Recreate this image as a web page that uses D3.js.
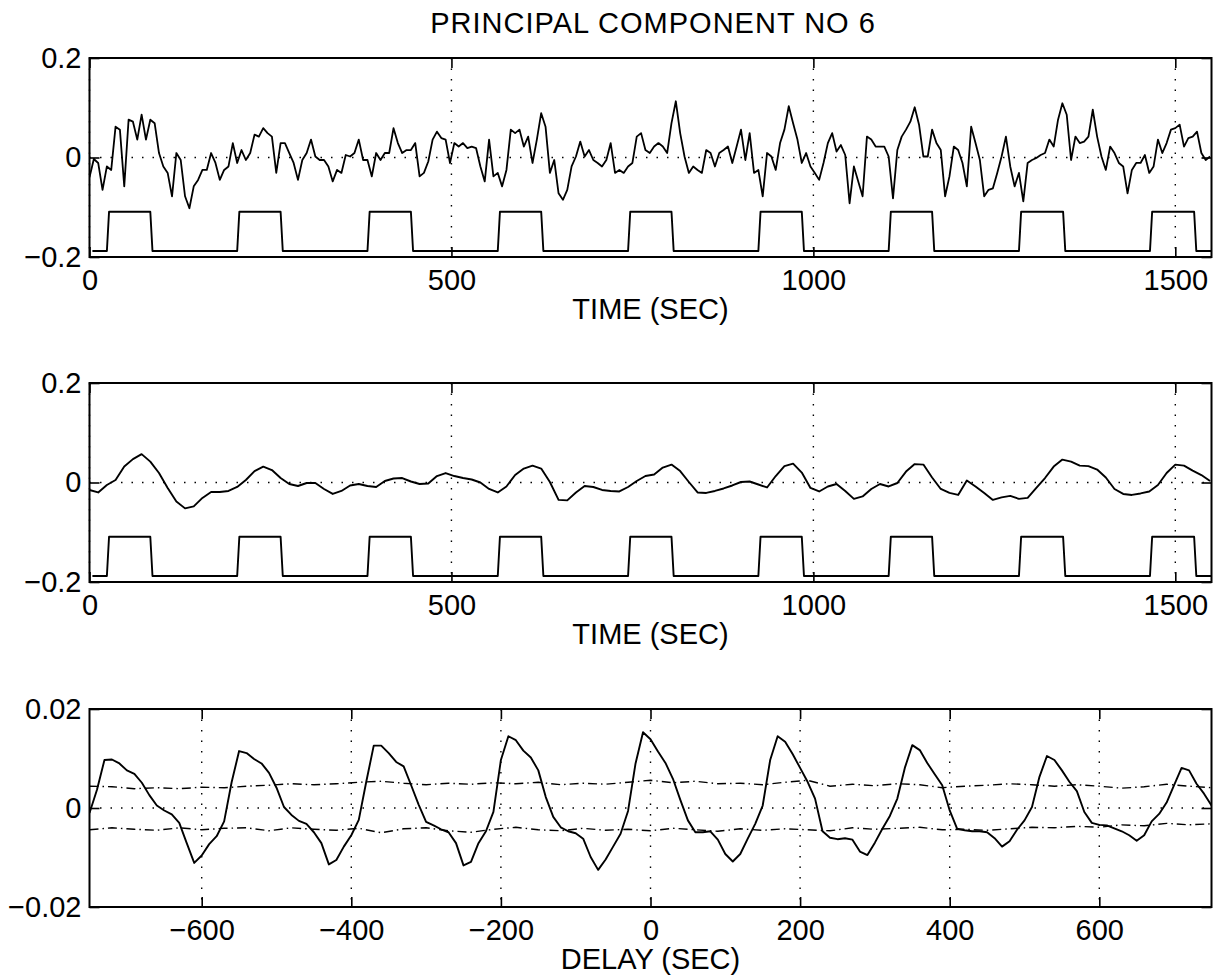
<!DOCTYPE html>
<html>
<head>
<meta charset="utf-8">
<script src="https://cdn.jsdelivr.net/npm/d3@7"></script>
<style>
	body { margin: 0; background: #fff; }
	svg text { font-family: "Liberation Sans", Arial, Helvetica, sans-serif; fill: #000; }
</style>
</head>
<body>
<svg id="chart" width="1213" height="977"></svg>
<script>
'use strict';

// ---- data ----

// raw principal component, one value every 6 sec from t = 0
var rawStep = 6;
var pcRaw = [
	-0.040, -0.003, -0.011, -0.065, -0.018, -0.025, 0.062, 0.056, -0.058, 0.076,
	0.072, 0.036, 0.086, 0.036, 0.076, 0.069, 0.009, -0.018, -0.031, -0.078,
	0.009, -0.005, -0.078, -0.102, -0.058, -0.045, -0.025, -0.025, 0.009, -0.011,
	-0.045, -0.025, -0.018, 0.029, -0.011, 0.015, -0.005, 0.009, 0.046, 0.042,
	0.059, 0.049, 0.042, -0.031, 0.029, 0.029, 0.009, -0.011, -0.045, -0.005,
	0.009, 0.036, 0.002, -0.005, -0.005, -0.018, -0.048, -0.025, -0.031, 0.005,
	0.002, 0.009, 0.036, -0.005, -0.005, -0.038, 0.009, -0.005, 0.009, 0.009,
	0.059, 0.029, 0.009, 0.015, 0.015, 0.029, -0.038,
	-0.031, -0.008, 0.036, 0.052, 0.039, 0.036, -0.011, 0.029, 0.022, 0.029,
	0.019, 0.022, 0.019, -0.018, -0.048, 0.036, -0.038, -0.031, -0.058, -0.025,
	0.056, 0.049, 0.056, 0.022, 0.042, -0.011, 0.036, 0.089, 0.062, -0.031,
	-0.005, -0.072, -0.085, -0.065, -0.018, 0.002, 0.032, 0.002, 0.015, -0.005,
	-0.011, -0.018, -0.005, 0.029, -0.031, -0.025, -0.031, -0.018, -0.011, 0.042,
	0.049, 0.015, 0.009, 0.022, 0.029, 0.022, 0.009, 0.069, 0.113, 0.049,
	0.002, -0.031, -0.018, -0.025, -0.031, 0.015, 0.009, -0.018, 0.009, 0.015,
	0.022, -0.011, 0.022, 0.056, -0.005, 0.049, -0.031, -0.025, -0.078, 0.009,
	0.002, -0.025, 0.029, 0.056, 0.103, 0.069, 0.036, -0.011, 0.009, -0.018,
	-0.031, -0.045,
	-0.011, 0.029, 0.049, 0.012, 0.025, 0.005, -0.092, -0.018, -0.048, -0.078,
	0.042, 0.036, 0.022, 0.022, 0.022, 0.002, -0.082, 0.015, 0.042, 0.056,
	0.072, 0.101, 0.066, 0.002, 0.002, 0.056, 0.029, 0.015, -0.078, -0.038,
	0.022, 0.015, -0.011, -0.058, 0.062, 0.029, -0.005, -0.078, -0.065, -0.062,
	-0.031, 0.002, 0.042, -0.018, -0.058, -0.031, -0.088, -0.011, -0.005, -0.001,
	0.005, 0.009, 0.036, 0.022, 0.076, 0.109, 0.086, -0.005, 0.042, 0.029,
	0.032, 0.042, 0.096, 0.042, 0.002, -0.025, 0.022, 0.009, -0.011, -0.018,
	-0.072, -0.025, -0.011, -0.011, 0.005, -0.031, -0.018, 0.036, 0.009, 0.029,
	0.056, 0.059, 0.066, 0.022, 0.039, 0.042, 0.052, 0.009, -0.005, 0.002
];

// smoothed component, one value every 12 sec from t = 0
var smoothStep = 12;
var pcSmooth = [
	-0.015, -0.020, -0.005, 0.005, 0.032, 0.047, 0.057, 0.042, 0.019, -0.011,
	-0.038, -0.052, -0.048, -0.031, -0.019, -0.019, -0.017, -0.009, 0.005, 0.023,
	0.032, 0.025, 0.009, -0.003, -0.007, -0.001, -0.001, -0.013, -0.023, -0.017,
	-0.006, -0.003, -0.007, -0.009, 0.003, 0.008, 0.009, 0.002, -0.003,
	-0.002, 0.013, 0.019, 0.013, 0.009, 0.006, 0.000, -0.013, -0.020, -0.008,
	0.015, 0.028, 0.034, 0.028, 0.001, -0.035, -0.036, -0.020, -0.007, -0.009,
	-0.015, -0.017, -0.018, -0.009, 0.003, 0.013, 0.016, 0.030, 0.036, 0.023,
	0.001, -0.020, -0.021, -0.017, -0.012, -0.006, 0.001, 0.002, -0.004, -0.010,
	0.013, 0.033, 0.038, 0.020, -0.011, -0.018,
	-0.008, -0.003, -0.017, -0.033, -0.028, -0.013, -0.003, -0.008, -0.001, 0.022,
	0.037, 0.036, 0.010, -0.013, -0.021, -0.025, 0.004, -0.008, -0.021, -0.035,
	-0.030, -0.027, -0.033, -0.031, -0.011, 0.009, 0.032, 0.046, 0.042, 0.034,
	0.033, 0.026, 0.010, -0.013, -0.023, -0.025, -0.022, -0.018, -0.005, 0.019,
	0.036, 0.034, 0.024, 0.015, 0.003
];

// stimulus on/off reference (corner points)
var stimTime = [4, 24, 27, 84, 87, 204, 207, 264, 267, 384, 387, 444, 447,
	564, 567, 624, 627, 744, 747, 804, 807, 924, 927, 984, 987,
	1104, 1107, 1164, 1167, 1284, 1287, 1345, 1348, 1465, 1468, 1526, 1529, 1550];
var stimLevel = [-0.188, -0.188, -0.109, -0.109, -0.188, -0.188, -0.109, -0.109, -0.188,
	-0.188, -0.109, -0.109, -0.188, -0.188, -0.109, -0.109, -0.188, -0.188, -0.109,
	-0.109, -0.188, -0.188, -0.109, -0.109, -0.188, -0.188, -0.109, -0.109, -0.188,
	-0.188, -0.109, -0.109, -0.188, -0.188, -0.109, -0.109, -0.188, -0.188];

// cross-correlation, one value every 10 sec from lag -750
var lagStart = -750, lagStep = 10;
var xcorr = [
	-0.0010, 0.0037, 0.0097, 0.0098, 0.0090, 0.0076, 0.0069, 0.0051, 0.0026, 0.0005,
	-0.0005, -0.0013, -0.0030, -0.0071, -0.0111, -0.0096, -0.0073, -0.0057, -0.0027, 0.0052,
	0.0115, 0.0111, 0.0099, 0.0090, 0.0071, 0.0041, 0.0002, -0.0014, -0.0026, -0.0032,
	-0.0049, -0.0071, -0.0114, -0.0105, -0.0078, -0.0055, -0.0024, 0.0053, 0.0126, 0.0126,
	0.0111, 0.0093, 0.0084, 0.0046, 0.0007,
	-0.0028, -0.0035, -0.0043, -0.0049, -0.0071, -0.0116, -0.0109, -0.0071, -0.0047, -0.0008,
	0.0097, 0.0145, 0.0137, 0.0116, 0.0102, 0.0076, 0.0022, -0.0018, -0.0039, -0.0047,
	-0.0051, -0.0062, -0.0099, -0.0125, -0.0104, -0.0078, -0.0052, -0.0006, 0.0090, 0.0153,
	0.0139, 0.0114, 0.0091, 0.0059, 0.0016, -0.0025, -0.0049, -0.0049, -0.0047, -0.0064,
	-0.0093, -0.0108, -0.0093, -0.0062, -0.0032, 0.0005, 0.0097, 0.0145, 0.0134, 0.0109,
	0.0081, 0.0053, 0.0019,
	-0.0047, -0.0060, -0.0063, -0.0061, -0.0064, -0.0088, -0.0095, -0.0070, -0.0042, -0.0016,
	0.0019, 0.0081, 0.0127, 0.0117, 0.0091, 0.0068, 0.0046, -0.0005, -0.0042, -0.0045,
	-0.0047, -0.0047, -0.0049, -0.0061, -0.0078, -0.0067, -0.0044, -0.0025, 0.0002, 0.0063,
	0.0105, 0.0097, 0.0076, 0.0053, 0.0034, -0.0008, -0.0030, -0.0034, -0.0035, -0.0041,
	-0.0047, -0.0055, -0.0066, -0.0055, -0.0027, -0.0012, 0.0011, 0.0046, 0.0081, 0.0076,
	0.0049, 0.0029, 0.0005
];

// significance bounds, one value every 30 sec from lag -750
var boundStep = 30;
var boundUpper = [
	0.0044, 0.0043, 0.0039, 0.0041, 0.0039, 0.0042, 0.0041, 0.0044, 0.0046, 0.0049,
	0.0047, 0.0049, 0.0052, 0.0054, 0.0050, 0.0047, 0.0050, 0.0048, 0.0051, 0.0049,
	0.0052, 0.0047, 0.0050, 0.0048, 0.0052, 0.0056, 0.0051, 0.0054, 0.0049, 0.0050,
	0.0047, 0.0052, 0.0056, 0.0044, 0.0048, 0.0045, 0.0049, 0.0047, 0.0041, 0.0044,
	0.0046, 0.0049, 0.0047, 0.0044, 0.0047, 0.0044, 0.0040, 0.0043, 0.0048, 0.0044,
	0.0041
];
var boundLower = [
	-0.0044, -0.0040, -0.0043, -0.0045, -0.0040, -0.0044, -0.0041, -0.0040, -0.0046, -0.0040,
	-0.0043, -0.0045, -0.0041, -0.0050, -0.0042, -0.0040, -0.0046, -0.0049, -0.0043, -0.0039,
	-0.0044, -0.0046, -0.0041, -0.0045, -0.0043, -0.0046, -0.0041, -0.0044, -0.0047, -0.0042,
	-0.0045, -0.0042, -0.0044, -0.0046, -0.0040, -0.0043, -0.0041, -0.0039, -0.0044, -0.0043,
	-0.0045, -0.0042, -0.0039, -0.0040, -0.0037, -0.0039, -0.0034, -0.0036, -0.0031, -0.0034,
	-0.0032
];

var timeTicks = [0, 500, 1000, 1500];
var lagTicks = [-600, -400, -200, 0, 200, 400, 600];
var ampTicks = [-0.2, 0, 0.2];
var corrTicks = [-0.02, 0, 0.02];

// ---- drawing ----

var svg = d3.select("#chart");
var left = 89.5, right = 1211.5;
var tickLen = 10;
var fontSize = 29;

function minus(s) {
	return s.replace("-", "\u2212");
}

function series(values, start, step) {
	return values.map(function (v, i) {
		return [start + i * step, v];
	});
}

function drawPanel(cfg) {
	var x = d3.scaleLinear().domain(cfg.xDomain).range([left, right]);
	var y = d3.scaleLinear().domain(cfg.yDomain).range([cfg.bottom, cfg.top]);
	var g = svg.append("g");

	var clipId = "clip" + cfg.top;
	svg.append("clipPath").attr("id", clipId)
		.append("rect")
		.attr("x", left).attr("y", cfg.top)
		.attr("width", right - left).attr("height", cfg.bottom - cfg.top);

	// dotted grid
	g.selectAll(".vgrid")
		.data(cfg.xTicks)
		.enter().append("line")
		.attr("x1", function (d) { return x(d); })
		.attr("x2", function (d) { return x(d); })
		.attr("y1", cfg.top).attr("y2", cfg.bottom)
		.attr("stroke", "#000").attr("stroke-width", 1.4)
		.attr("stroke-dasharray", "1.5,9");
	g.selectAll(".hgrid")
		.data(cfg.yTicks)
		.enter().append("line")
		.attr("x1", left).attr("x2", right)
		.attr("y1", function (d) { return y(d); })
		.attr("y2", function (d) { return y(d); })
		.attr("stroke", "#000").attr("stroke-width", 1.4)
		.attr("stroke-dasharray", "1.5,9");

	// inward ticks on all four sides
	var yFmt = function (d) { return d === 0 ? "0" : minus(d3.format(cfg.yFormat)(d)); };
	var xFmt = function (d) { return minus(String(d)); };

	g.append("g")
		.attr("transform", "translate(0," + cfg.bottom + ")")
		.style("font-size", fontSize + "px")
		.call(d3.axisBottom(x).tickValues(cfg.xTicks).tickFormat(xFmt)
			.tickSizeInner(-tickLen).tickSizeOuter(0).tickPadding(12))
		.call(function (a) { a.select(".domain").remove(); });
	g.append("g")
		.attr("transform", "translate(0," + cfg.top + ")")
		.call(d3.axisTop(x).tickValues(cfg.xTicks).tickFormat("")
			.tickSizeInner(-tickLen).tickSizeOuter(0))
		.call(function (a) { a.select(".domain").remove(); });
	g.append("g")
		.attr("transform", "translate(" + left + ",0)")
		.style("font-size", fontSize + "px")
		.call(d3.axisLeft(y).tickValues(cfg.yTicks).tickFormat(yFmt)
			.tickSizeInner(-tickLen).tickSizeOuter(0).tickPadding(8))
		.call(function (a) { a.select(".domain").remove(); });
	g.append("g")
		.attr("transform", "translate(" + right + ",0)")
		.call(d3.axisRight(y).tickValues(cfg.yTicks).tickFormat("")
			.tickSizeInner(-tickLen).tickSizeOuter(0))
		.call(function (a) { a.select(".domain").remove(); });

	g.selectAll(".tick line").attr("stroke", "#000").attr("stroke-width", 1.6);
	g.selectAll(".tick text").attr("fill", "#000")
		.style("font-family", "'Liberation Sans', Arial, Helvetica, sans-serif");

	// data lines
	var line = d3.line()
		.x(function (d) { return x(d[0]); })
		.y(function (d) { return y(d[1]); });
	var plot = g.append("g").attr("clip-path", "url(#" + clipId + ")");
	cfg.lines.forEach(function (s) {
		plot.append("path")
			.datum(s.data)
			.attr("fill", "none")
			.attr("stroke", "#000")
			.attr("stroke-width", s.width || 1.9)
			.attr("stroke-linejoin", "round")
			.attr("stroke-dasharray", s.dash || null)
			.attr("d", line);
	});

	// frame
	g.append("rect")
		.attr("x", left).attr("y", cfg.top)
		.attr("width", right - left).attr("height", cfg.bottom - cfg.top)
		.attr("fill", "none").attr("stroke", "#000").attr("stroke-width", 2);

	// x label
	g.append("text")
		.attr("x", (left + right) / 2)
		.attr("y", cfg.bottom + 62)
		.attr("text-anchor", "middle")
		.style("font-size", fontSize + "px")
		.text(cfg.xLabel);
}

var stimulus = stimTime.map(function (t, i) { return [t, stimLevel[i]]; });

svg.append("text")
	.attr("x", 653)
	.attr("y", 33)
	.attr("text-anchor", "middle")
	.style("font-size", "29px")
	.style("letter-spacing", "1px")
	.text("PRINCIPAL COMPONENT NO 6");

drawPanel({
	top: 58, bottom: 257,
	xDomain: [0, 1550], yDomain: [-0.2, 0.2],
	xTicks: timeTicks, yTicks: ampTicks, yFormat: ".1f",
	xLabel: "TIME (SEC)",
	lines: [
		{ data: series(pcRaw, 0, rawStep), width: 1.8 },
		{ data: stimulus }
	]
});

drawPanel({
	top: 383, bottom: 582,
	xDomain: [0, 1550], yDomain: [-0.2, 0.2],
	xTicks: timeTicks, yTicks: ampTicks, yFormat: ".1f",
	xLabel: "TIME (SEC)",
	lines: [
		{ data: series(pcSmooth, 0, smoothStep) },
		{ data: stimulus }
	]
});

drawPanel({
	top: 709, bottom: 907,
	xDomain: [-750, 750], yDomain: [-0.02, 0.02],
	xTicks: lagTicks, yTicks: corrTicks, yFormat: ".2f",
	xLabel: "DELAY (SEC)",
	lines: [
		{ data: series(boundUpper, lagStart, boundStep), width: 1.4, dash: "9,4,1.5,4" },
		{ data: series(boundLower, lagStart, boundStep), width: 1.4, dash: "9,4,1.5,4" },
		{ data: series(xcorr, lagStart, lagStep) }
	]
});
</script>
</body>
</html>
